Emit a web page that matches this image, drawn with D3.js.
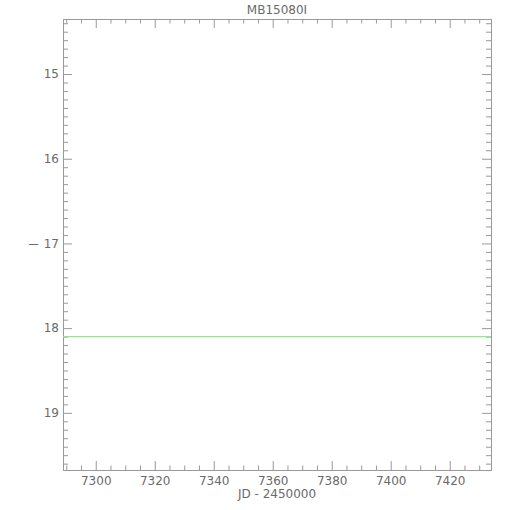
<!DOCTYPE html>
<html>
<head>
<meta charset="utf-8">
<script src="https://cdn.jsdelivr.net/npm/d3@7/dist/d3.min.js"></script>
<style>
  html, body { margin: 0; padding: 0; background: #fff; }
  svg text { font-family: "DejaVu Sans", sans-serif; fill: #6a6a6a; }
</style>
</head>
<body>
<svg id="chart" width="510" height="510"></svg>
<script>
const title = "MB15080I";
const xLabel = "JD - 2450000";
const yLabel = "I";
const xDomain = [7288.9, 7434.0];
const yDomain = [14.35, 19.675];
const xMajorTicks = [7300, 7320, 7340, 7360, 7380, 7400, 7420];
const yMajorTicks = [15, 16, 17, 18, 19];
const lineJD = [7288.9, 7434.0];
const lineMag = [18.1, 18.1];

const W = 510, H = 510;
const m = {left: 63, right: 19, top: 19, bottom: 40};
const svg = d3.select("#chart");
const x = d3.scaleLinear().domain(xDomain).range([m.left, W - m.right]);
const y = d3.scaleLinear().domain(yDomain).range([m.top, H - m.bottom]);

const axisColor = "#999";
const xMinor = d3.range(Math.ceil(xDomain[0] / 5) * 5, xDomain[1], 5).filter(v => v % 20 !== 0);
const yMinor = d3.range(Math.ceil(yDomain[0] * 10), yDomain[1] * 10).map(v => v / 10).filter(v => Math.abs(v - Math.round(v)) > 1e-6);

function styleAxis(g) {
  g.select(".domain").attr("stroke", axisColor);
  g.selectAll(".tick line").attr("stroke", axisColor);
  g.selectAll(".tick text").attr("fill", "#6a6a6a").attr("font-size", 12).style("font-family", "DejaVu Sans, sans-serif");
}

// bottom
svg.append("g").attr("transform", `translate(0,${H - m.bottom})`)
  .call(d3.axisBottom(x).tickValues(xMajorTicks).tickSize(-9).tickPadding(6).tickFormat(d3.format("d")).tickSizeOuter(0))
  .call(styleAxis);
svg.append("g").attr("transform", `translate(0,${H - m.bottom})`)
  .call(d3.axisBottom(x).tickValues(xMinor).tickSize(-4.5).tickFormat("").tickSizeOuter(0))
  .call(styleAxis);
// top
svg.append("g").attr("transform", `translate(0,${m.top})`)
  .call(d3.axisTop(x).tickValues(xMajorTicks).tickSize(-9).tickFormat("").tickSizeOuter(0))
  .call(styleAxis);
svg.append("g").attr("transform", `translate(0,${m.top})`)
  .call(d3.axisTop(x).tickValues(xMinor).tickSize(-4.5).tickFormat("").tickSizeOuter(0))
  .call(styleAxis);
// left
svg.append("g").attr("transform", `translate(${m.left},0)`)
  .call(d3.axisLeft(y).tickValues(yMajorTicks).tickSize(-9).tickPadding(4).tickFormat(d3.format("d")).tickSizeOuter(0))
  .call(styleAxis);
svg.append("g").attr("transform", `translate(${m.left},0)`)
  .call(d3.axisLeft(y).tickValues(yMinor).tickSize(-5).tickFormat("").tickSizeOuter(0))
  .call(styleAxis);
// right
svg.append("g").attr("transform", `translate(${W - m.right},0)`)
  .call(d3.axisRight(y).tickValues(yMajorTicks).tickSize(-9).tickFormat("").tickSizeOuter(0))
  .call(styleAxis);
svg.append("g").attr("transform", `translate(${W - m.right},0)`)
  .call(d3.axisRight(y).tickValues(yMinor).tickSize(-5).tickFormat("").tickSizeOuter(0))
  .call(styleAxis);

// line
const lineData = lineJD.map((d, i) => [d, lineMag[i]]);
svg.append("path").datum(lineData)
  .attr("fill", "none").attr("stroke", "#90e890").attr("stroke-width", 1.2)
  .attr("d", d3.line().x(d => x(d[0])).y(d => y(d[1])));

// labels
svg.append("text").attr("x", (m.left + W - m.right) / 2).attr("y", 14)
  .attr("text-anchor", "middle").attr("font-size", 12).text(title);
svg.append("text").attr("x", (m.left + W - m.right) / 2).attr("y", 498)
  .attr("text-anchor", "middle").attr("font-size", 12).text(xLabel);
svg.append("text").attr("transform", `translate(38,${(m.top + H - m.bottom) / 2}) rotate(-90)`)
  .attr("text-anchor", "middle").attr("font-size", 12).text(yLabel);
</script>
</body>
</html>
